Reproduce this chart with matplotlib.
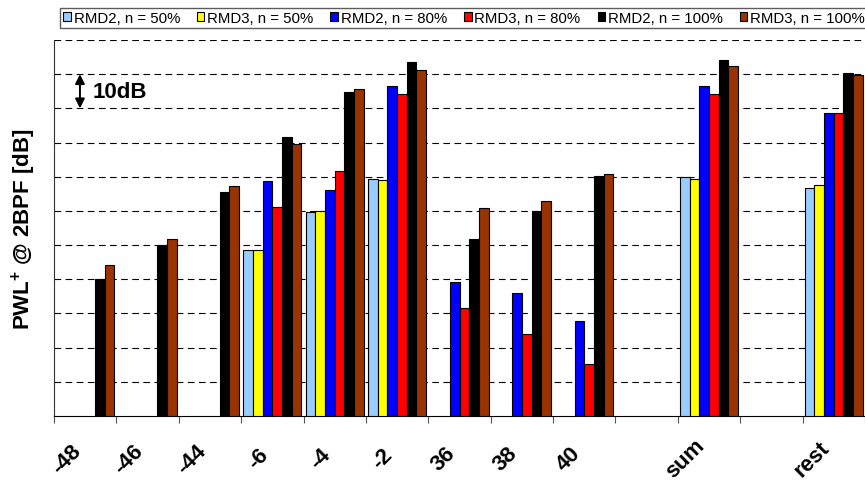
import numpy as np
import matplotlib
matplotlib.use('Agg')
import matplotlib.pyplot as plt
from matplotlib.ticker import FixedLocator

plt.rcParams['font.family'] = ['Liberation Sans', 'DejaVu Sans']
plt.rcParams['mathtext.fontset'] = 'custom'
plt.rcParams['mathtext.rm'] = 'Liberation Sans'
plt.rcParams['mathtext.bf'] = 'Liberation Sans:bold'

nan = np.nan

# categories (empty slots are kept as gaps on the axis)
categories = ['-48', '-46', '-44', '-6', '-4', '-2', '36', '38', '40', '', 'sum', '', 'rest']

# PWL+ @ 2BPF in dB (relative scale, gridlines every 10 dB)
rmd2_50 = [nan, nan, nan, 48.7, 59.6, 69.4, nan, nan, nan, nan, 69.9, nan, 66.8]
rmd3_50 = [nan, nan, nan, 48.5, 59.9, 68.9, nan, nan, nan, nan, 69.4, nan, 67.7]
rmd2_80 = [nan, nan, nan, 68.7, 66.2, 96.6, 39.2, 36.1, 27.9, nan, 96.6, nan, 88.7]
rmd3_80 = [nan, nan, nan, 61.2, 71.8, 94.3, 31.5, 23.9, 15.2, nan, 94.3, nan, 88.7]
rmd2_100 = [40.0, 49.9, 65.6, 81.5, 94.8, 103.5, 51.9, 59.9, 70.2, nan, 104.1, nan, 100.4]
rmd3_100 = [44.3, 51.9, 67.3, 79.6, 95.7, 101.3, 60.8, 63.0, 70.9, nan, 102.4, nan, 99.8]

series = [rmd2_50, rmd3_50, rmd2_80, rmd3_80, rmd2_100, rmd3_100]
labels = ['RMD2, n = 50%', 'RMD3, n = 50%', 'RMD2, n = 80%',
          'RMD3, n = 80%', 'RMD2, n = 100%', 'RMD3, n = 100%']
colors = ['#99CCFF', '#FFFF00', '#0000FF', '#FF0000', '#000000', '#993300']

fig = plt.figure(figsize=(8.65, 4.89), dpi=100)
ax = fig.add_axes([54 / 865, (489 - 417) / 489, 811 / 865, 376 / 489])

x = np.arange(len(categories))
w = 0.155
for i, (vals, lab, col) in enumerate(zip(series, labels, colors)):
    off = (i - 2.5) * w
    ax.bar(x + off, vals, width=w, color=col, edgecolor='black',
           linewidth=0.8, label=lab, zorder=3)

ax.set_xlim(-0.5, len(categories) - 0.5)
ax.set_ylim(0, 110)

# grid
ax.set_yticks(np.arange(10, 111, 10))
ax.set_yticklabels([])
ax.tick_params(axis='y', length=0)
ax.yaxis.grid(True, linestyle=(0, (6, 4)), color='black', linewidth=0.8, zorder=1)

# category labels at centres, tick marks at boundaries
ax.set_xticks(x)
ax.set_xticklabels(categories, rotation=45, ha='right', va='center',
                   fontsize=16, fontweight='bold')
ax.tick_params(axis='x', which='major', length=0, pad=30.5)
ax.xaxis.set_minor_locator(FixedLocator(np.arange(-0.5, len(categories), 1.0)))
ax.tick_params(axis='x', which='minor', length=5, color='#555555', width=0.8)

for s in ['top', 'right']:
    ax.spines[s].set_visible(False)
ax.spines['left'].set_color('#333333')
ax.spines['bottom'].set_color('black')

ax.set_ylabel(r'PWL$^{\mathbf{+}}$ @ 2BPF [dB]', fontsize=16, fontweight='bold',
              labelpad=8)

# 10 dB scale marker
ax.annotate('', xy=(0.032, 100), xytext=(0.032, 90),
            xycoords=('axes fraction', 'data'),
            arrowprops=dict(arrowstyle='<|-|>', color='black', lw=1.4,
                            mutation_scale=14, shrinkA=0, shrinkB=0))
ax.text(0.048, 95, '10dB', transform=ax.get_yaxis_transform(),
        fontsize=16, fontweight='bold', va='center', ha='left')

leg = fig.legend(loc='center', ncol=6, fontsize=10.8,
                 bbox_to_anchor=(60 / 865, 1 - 31 / 489, 808 / 865, 24 / 489),
                 mode='expand', handlelength=0.5, handleheight=0.5,
                 handletextpad=0.2, columnspacing=0.5, borderpad=0.2,
                 frameon=True, fancybox=False, borderaxespad=0)
leg.get_frame().set_edgecolor('#333333')
leg.get_frame().set_linewidth(1.0)

fig.savefig('out.png', dpi=100)
